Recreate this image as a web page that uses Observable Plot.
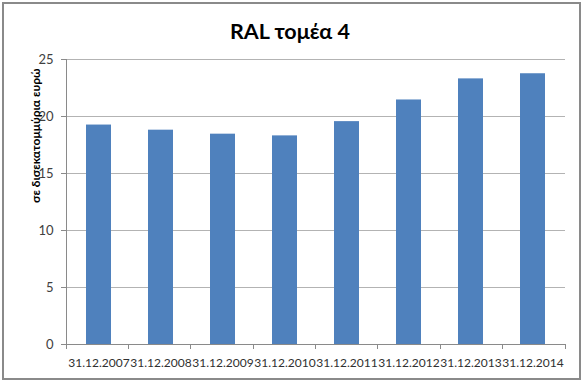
<!DOCTYPE html>
<html>
<head>
<meta charset="utf-8">
<script src="https://cdn.jsdelivr.net/npm/d3@7"></script>
<script src="https://cdn.jsdelivr.net/npm/@observablehq/plot@0.6"></script>
<style>
  body { margin: 0; background: #fff; width: 583px; height: 382px; position: relative; overflow: hidden; font-family: Lato, "Open Sans", sans-serif; }
  #frame { position: absolute; left: 2px; top: 2px; width: 575px; height: 374px; border: 2px solid #8a8a8a; z-index: 5; pointer-events: none; }
  #title { position: absolute; left: 0; top: 16px; width: 580px; height: 30px; line-height: 30px; text-align: center; font-size: 21.5px; font-weight: bold; color: #000; }
  #chart { position: absolute; left: 0; top: 46px; }
</style>
</head>
<body>
<div id="title">RAL τομέα 4</div>
<div id="chart"></div>
<div id="frame"></div>
<script>
const categories = ["31.12.2007", "31.12.2008", "31.12.2009", "31.12.2010", "31.12.2011", "31.12.2012", "31.12.2013", "31.12.2014"];
const values = [19.25, 18.8, 18.45, 18.3, 19.55, 21.45, 23.3, 23.75];
const yTicks = [0, 5, 10, 15, 20, 25];
const yLabel = "σε δισεκατομμύρια ευρώ";

const data = categories.map((c, i) => ({date: c, value: values[i]}));

const W = 583, H = 336;
const mL = 66, mR = 18, mT = 13, mB = 38;

// y axis line + category separator ticks on the x axis (Excel style)
function axisLines(index, scales, values, dimensions) {
  const {width, height, marginLeft, marginRight, marginTop, marginBottom} = dimensions;
  const n = categories.length;
  const step = (width - marginLeft - marginRight) / n;
  const y0 = height - marginBottom;
  const g = d3.create("svg:g").attr("stroke", "#8a8a8a").attr("stroke-width", 1).attr("shape-rendering", "crispEdges");
  g.append("line").attr("x1", marginLeft).attr("x2", marginLeft).attr("y1", marginTop).attr("y2", y0);
  for (let k = 0; k <= n; k++) {
    const x = marginLeft + k * step;
    g.append("line").attr("x1", x).attr("x2", x).attr("y1", y0).attr("y2", y0 + 5);
  }
  return g.node();
}

const chart = Plot.plot({
  width: W,
  height: H,
  marginLeft: mL,
  marginRight: mR,
  marginTop: mT,
  marginBottom: mB,
  style: {fontFamily: "Lato, 'Open Sans', sans-serif", background: "transparent", overflow: "visible"},
  x: {type: "band", domain: categories, paddingInner: 0.6, paddingOuter: 0.3, label: null},
  y: {domain: [0, 25], label: null},
  marks: [
    Plot.ruleY(yTicks, {stroke: "#b3b3b3", strokeWidth: 1, shapeRendering: "crispEdges"}),
    Plot.barY(data, {x: "date", y: "value", fill: "#4f81bd"}),
    Plot.axisY({ticks: yTicks, tickSize: 5, tickPadding: 8, stroke: "#8a8a8a", fontSize: 13, fill: "#404040", label: null}),
    Plot.axisX({tickSize: 0, tickPadding: 14, fontSize: 12, fill: "#303030", label: null}),
    Plot.ruleY([0], {stroke: "#8a8a8a", shapeRendering: "crispEdges"}),
    axisLines,
    Plot.text([yLabel], {frameAnchor: "top-left", rotate: -90, textAnchor: "end", dx: -35, dy: 9, fontWeight: "bold", fontSize: 12, fill: "#000"})
  ]
});

document.getElementById("chart").appendChild(chart);
</script>
</body>
</html>
